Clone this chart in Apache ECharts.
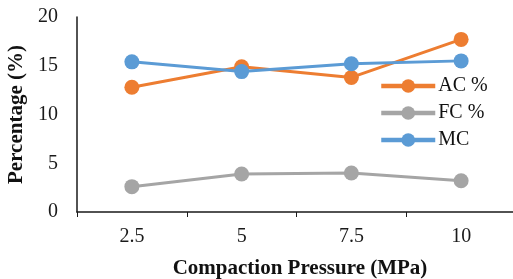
<!DOCTYPE html>
<html><head><meta charset="utf-8">
<script src="https://cdn.jsdelivr.net/npm/echarts@6/dist/echarts.min.js"></script>
<style>html,body{margin:0;padding:0;background:#fff}#c{width:513px;height:279px}</style>
</head><body><div id="c"></div>
<script>
const categories = ['2.5', '5', '7.5', '10'];
const acValues = [12.8, 14.9, 13.8, 17.7];
const fcValues = [2.6, 3.9, 4.0, 3.2];
const mcValues = [15.4, 14.4, 15.2, 15.5];
const seriesNames = ['AC %', 'FC %', 'MC'];
const colors = ['#ED7D31', '#A5A5A5', '#5B9BD5'];

const font = 'Liberation Serif, Times New Roman, serif';
const chart = echarts.init(document.getElementById('c'));
const mk = (name, data, color, z) => ({
  name, type: 'line', data, color, z,
  symbol: 'circle', symbolSize: 15,
  lineStyle: { width: 3, color },
  itemStyle: { color }
});
chart.setOption({
  animation: false,
  grid: { left: 77, top: 17, width: 439, height: 195, containLabel: false, outerBoundsMode: 'none' },
  legend: {
    orient: 'vertical', left: 379, top: 76, padding: 0, itemWidth: 54, itemHeight: 17, itemGap: 7,
    data: seriesNames,
    lineStyle: { width: 4.5 },
    textStyle: { fontFamily: font, fontSize: 20, color: '#111', padding: [0,0,0,-2] }
  },
  xAxis: {
    type: 'category', data: categories, boundaryGap: true,
    axisLine: { lineStyle: { color: '#1a1a1a', width: 1.5 } },
    axisTick: { show: true, length: 5, lineStyle: { color: '#1a1a1a' } },
    axisLabel: { fontFamily: font, fontSize: 20, color: '#1a1a1a', margin: 15 },
    name: 'Compaction Pressure (MPa)', nameLocation: 'middle', nameGap: 46,
    nameTextStyle: { fontFamily: font, fontSize: 21, fontWeight: 'bold', color: '#111', padding: [0,0,0,7] }
  },
  yAxis: {
    type: 'value', min: 0, max: 20, interval: 5,
    axisLine: { show: true, lineStyle: { color: '#1a1a1a', width: 1.5 } },
    axisTick: { show: false },
    splitLine: { show: false },
    axisLabel: { fontFamily: font, fontSize: 20, color: '#1a1a1a', margin: 19 },
    name: 'Percentage (%)', nameLocation: 'middle', nameGap: 49, nameRotate: 90,
    nameTextStyle: { fontFamily: font, fontSize: 21, fontWeight: 'bold', color: '#111' }
  },
  series: [
    mk(seriesNames[0], acValues, colors[0], 2),
    mk(seriesNames[1], fcValues, colors[1], 2),
    mk(seriesNames[2], mcValues, colors[2], 3)
  ]
});
</script></body></html>
